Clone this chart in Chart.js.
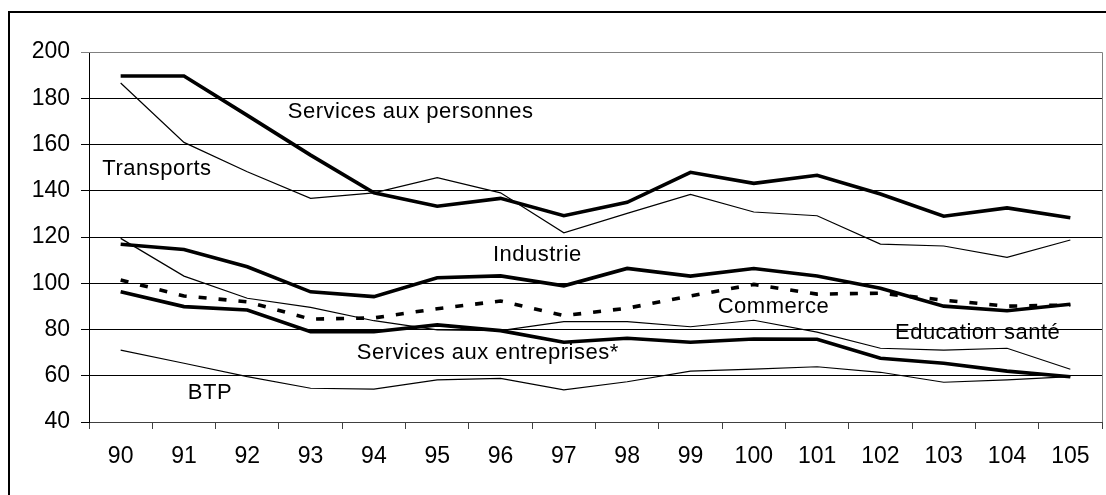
<!DOCTYPE html>
<html>
<head>
<meta charset="utf-8">
<script src="https://cdn.jsdelivr.net/npm/chart.js@4"></script>
<style>
  html, body { margin: 0; padding: 0; background: #fff; }
  canvas { display: block; }
</style>
</head>
<body>
<canvas id="chart" width="1106" height="495"></canvas>
<script>
/* ── Data ────────────────────────────────────────────── */
const YEARS = ['90','91','92','93','94','95','96','97','98','99','100','101','102','103','104','105'];

const SERVICES_PERSONNES   = [189.6,189.6,172.6,155.4,139.1,133.3,136.7,129.2,135.0,148.0,143.2,146.7,138.6,129.0,132.6,128.3];
const TRANSPORTS           = [186.6,160.9,148.2,136.7,139.1,145.7,139.1,121.8,130.2,138.4,130.8,129.2,116.9,116.1,111.2,118.7];
const INDUSTRIE            = [116.9,114.6,107.1,96.3,94.2,102.4,103.2,98.9,106.4,103.1,106.4,103.1,97.8,90.1,88.1,90.9];
const COMMERCE             = [101.4,94.5,92.0,84.5,85.0,89.0,92.3,86.0,89.2,94.5,99.5,95.3,95.7,92.7,90.1,90.6];
const EDUCATION_SANTE      = [119.4,103.1,93.5,89.6,83.8,79.8,79.5,83.4,83.4,81.2,84.0,78.9,71.9,71.1,71.9,62.8];
const SERVICES_ENTREPRISES = [96.3,89.9,88.4,79.0,79.0,82.0,79.5,74.5,76.2,74.5,75.9,75.8,67.6,65.4,62.0,59.6];
const BTP                  = [71.1,65.4,59.6,54.6,54.2,58.2,58.9,53.9,57.4,62.0,62.9,63.9,61.5,57.2,58.2,59.6];

const Y_MIN  = 40;
const Y_MAX  = 200;
const Y_STEP = 20;

/* ── Inline series labels: text, anchored at (category index, value) ── */
const LABELS = [
    { text: 'Services aux personnes',    at: [2.64, 174.1] },
    { text: 'Transports',                at: [-0.29, 149.4] },
    { text: 'Industrie',                 at: [5.88, 112.2] },
    { text: 'Commerce',                  at: [9.43, 89.9] },
    { text: 'Education santé',           at: [12.23, 78.5] },
    { text: 'Services aux entreprises*', at: [3.73, 69.9] },
    { text: 'BTP',                       at: [1.06, 52.6] },
];

const FONT = "'Liberation Sans', Arial, sans-serif";
const BLACK = '#000';
const GREY  = '#808080';

function line(label, data, width, dash) {
    return {
        label, data,
        borderColor: BLACK,
        borderWidth: width,
        borderDash: dash || [],
        pointRadius: 0,
        tension: 0,
        fill: false,
        borderJoinStyle: 'miter',
    };
}

/* ── Frame + labels plugin ───────────────────────────── */
const decor = {
    id: 'decor',
    beforeDraw(chart) {
        const c = chart.ctx;
        c.save();
        c.fillStyle = '#fff';
        c.fillRect(0, 0, chart.width, chart.height);
        c.restore();
    },
    afterDraw(chart) {
        const c = chart.ctx;
        const a = chart.chartArea;
        const xs = chart.scales.x, ys = chart.scales.y;
        c.save();
        // outer box (runs off right and bottom)
        c.strokeStyle = BLACK;
        c.lineWidth = 2;
        c.strokeRect(9, 12, chart.width + 20, chart.height + 20);
        // plot area border top/right
        c.strokeStyle = GREY;
        c.lineWidth = 1;
        c.beginPath();
        c.moveTo(a.left, Math.round(a.top) + 0.5);
        c.lineTo(Math.round(a.right) + 0.5, Math.round(a.top) + 0.5);
        c.lineTo(Math.round(a.right) + 0.5, a.bottom);
        c.stroke();
        // series labels
        const x0 = xs.getPixelForValue(0), x1 = xs.getPixelForValue(1);
        c.fillStyle = BLACK;
        c.font = '22px ' + FONT;
        c.textBaseline = 'middle';
        c.textAlign = 'left';
        if ('letterSpacing' in c) c.letterSpacing = '0.5px';
        LABELS.forEach(l => {
            const px = x0 + (x1 - x0) * l.at[0];
            const py = ys.getPixelForValue(l.at[1]);
            c.fillText(l.text, px, py);
        });
        c.restore();
    }
};

new Chart(document.getElementById('chart'), {
    type: 'line',
    data: {
        labels: YEARS,
        datasets: [
            line('Services aux personnes', SERVICES_PERSONNES, 3.6),
            line('Transports', TRANSPORTS, 1.2),
            line('Industrie', INDUSTRIE, 3.6),
            line('Commerce', COMMERCE, 3.6, [8, 12]),
            line('Education santé', EDUCATION_SANTE, 1.2),
            line('Services aux entreprises*', SERVICES_ENTREPRISES, 3.6),
            line('BTP', BTP, 1.2),
        ]
    },
    options: {
        responsive: false,
        animation: false,
        devicePixelRatio: 1,
        layout: { padding: { top: 52, right: 4, left: 0, bottom: 0 } },
        plugins: {
            legend: { display: false },
            tooltip: { enabled: false },
        },
        scales: {
            x: {
                offset: true,
                afterFit: s => { s.height = 73; },
                grid: { offset: true, drawOnChartArea: false, drawTicks: true, tickLength: 7, color: '#404040', lineWidth: 1 },
                border: { display: true, color: '#404040', width: 1 },
                ticks: { color: BLACK, font: { family: FONT, size: 23 }, padding: 14, maxRotation: 0, autoSkip: false },
            },
            y: {
                min: Y_MIN,
                max: Y_MAX,
                afterFit: s => { s.width = 89; },
                grid: {
                    color: ctx => (ctx.tick && ctx.tick.value === Y_MAX) ? GREY : BLACK,
                    lineWidth: 1,
                    tickLength: 8,
                },
                border: { display: true, color: BLACK, width: 1 },
                ticks: { stepSize: Y_STEP, color: BLACK, font: { family: FONT, size: 23 }, padding: 11 },
            }
        }
    },
    plugins: [decor]
});
</script>
</body>
</html>
